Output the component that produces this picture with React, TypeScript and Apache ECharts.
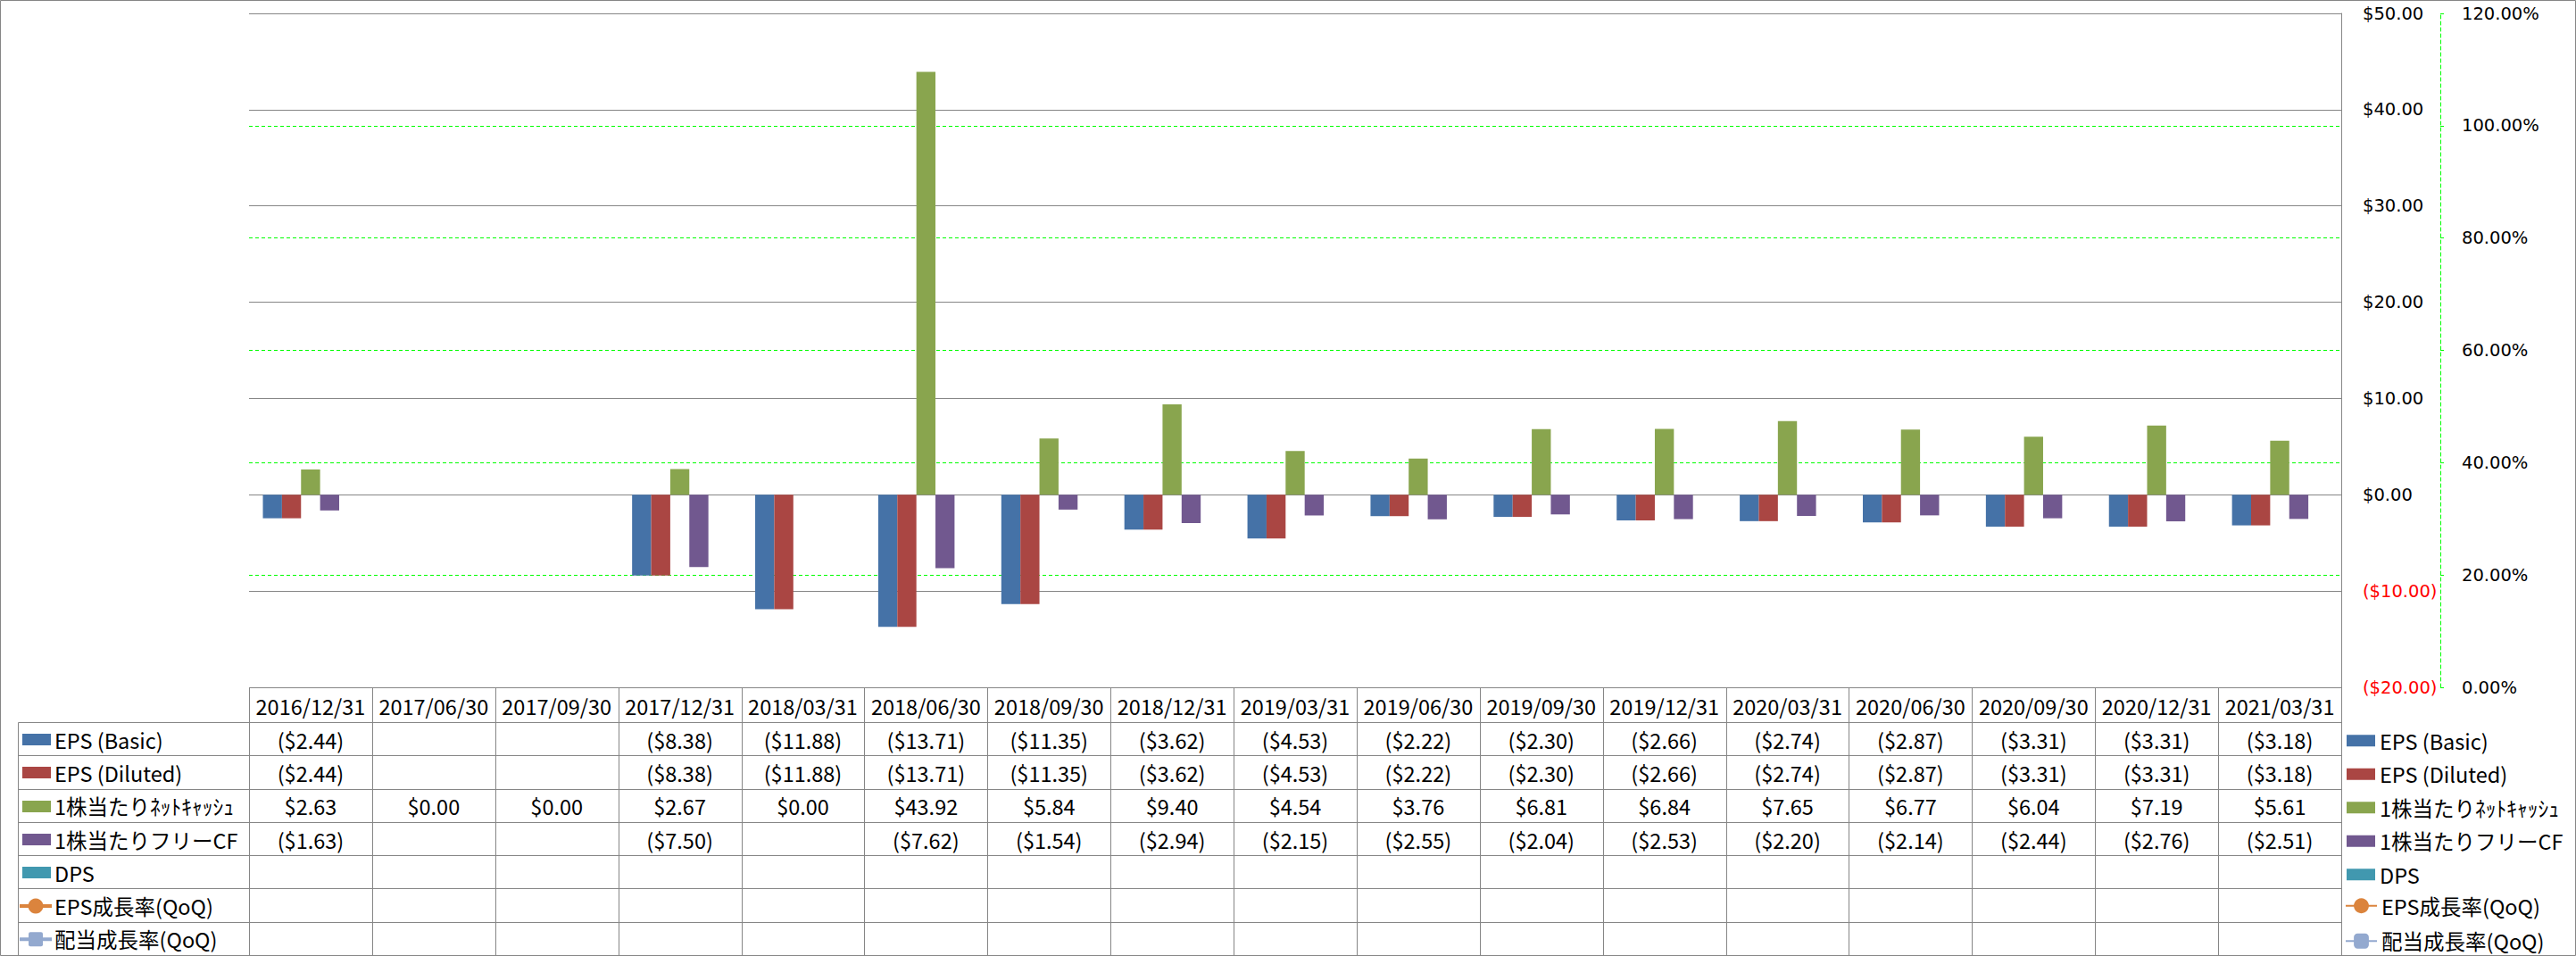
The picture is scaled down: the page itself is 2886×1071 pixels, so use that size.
import React, { useEffect, useRef } from "react";
import * as echarts from "echarts";

// ---------------- data ----------------
const categories = [
  "2016/12/31", "2017/06/30", "2017/09/30", "2017/12/31", "2018/03/31", "2018/06/30",
  "2018/09/30", "2018/12/31", "2019/03/31", "2019/06/30", "2019/09/30", "2019/12/31",
  "2020/03/31", "2020/06/30", "2020/09/30", "2020/12/31", "2021/03/31",
];
const epsBasic = [-2.44, null, null, -8.38, -11.88, -13.71, -11.35, -3.62, -4.53, -2.22, -2.3, -2.66, -2.74, -2.87, -3.31, -3.31, -3.18];
const epsDiluted = [-2.44, null, null, -8.38, -11.88, -13.71, -11.35, -3.62, -4.53, -2.22, -2.3, -2.66, -2.74, -2.87, -3.31, -3.31, -3.18];
const netCashPerShare = [2.63, 0, 0, 2.67, 0, 43.92, 5.84, 9.4, 4.54, 3.76, 6.81, 6.84, 7.65, 6.77, 6.04, 7.19, 5.61];
const fcfPerShare = [-1.63, null, null, -7.5, null, -7.62, -1.54, -2.94, -2.15, -2.55, -2.04, -2.53, -2.2, -2.14, -2.44, -2.76, -2.51];
const dps = [null, null, null, null, null, null, null, null, null, null, null, null, null, null, null, null, null];
const epsGrowth = [null, null, null, null, null, null, null, null, null, null, null, null, null, null, null, null, null];
const divGrowth = [null, null, null, null, null, null, null, null, null, null, null, null, null, null, null, null, null];

const seriesNames = [
  "EPS (Basic)", "EPS (Diluted)", "1株当たりﾈｯﾄｷｬｯｼｭ", "1株当たりフリーCF", "DPS", "EPS成長率(QoQ)", "配当成長率(QoQ)",
];
const seriesColors = ["#4572A7", "#AA4643", "#89A54E", "#71588F", "#4198AF", "#DB843D", "#93A9CF"];
const dollarAxis = { min: -20, max: 50, interval: 10 };
const pctAxis = { min: 0, max: 1.2, interval: 0.2 };

// ---------------- layout ----------------
const W = 2886;
const H = 1071;
const GRID_L = 279;
const GRID_R = 2623;
const GRID_T = 15;
const GRID_B = 770;
const TABLE_TOP = 770;
const HEADER_B = 809;
const TABLE_B = 1070;
const LEG_COL_L = 20;
const TABLE_FONT = '"Noto Sans CJK JP", "Noto Sans", sans-serif';
const AXIS_FONT = '"DejaVu Sans", Verdana, sans-serif';
const LINE_COLOR = "#868686";
const GREEN = "#00FF00";

const fmtDollar = (v: number | null) =>
  v == null ? "" : v < 0 ? `($${(-v).toFixed(2)})` : `$${v.toFixed(2)}`;

function buildTable() {
  const rows = [epsBasic, epsDiluted, netCashPerShare, fcfPerShare, dps, epsGrowth, divGrowth];
  const n = categories.length;
  const colW = (GRID_R - GRID_L) / n;
  const rowH = (TABLE_B - HEADER_B) / rows.length;
  const p = (v: number) => Math.round(v) + 0.5;
  const els: any[] = [];
  const line = (x1: number, y1: number, x2: number, y2: number) =>
    els.push({ type: "line", silent: true, z: 50, shape: { x1, y1, x2, y2 }, style: { stroke: LINE_COLOR, lineWidth: 1 } });
  const text = (x: number, y: number, s: string, align: string) =>
    els.push({
      type: "text", silent: true, z: 50, x, y,
      style: { text: s, fill: "#000", fontSize: 23.5, fontFamily: TABLE_FONT, align, verticalAlign: "middle" },
    });

  // outer chart border
  els.push({ type: "rect", silent: true, z: 50, shape: { x: 0.5, y: 0.5, width: W - 1, height: H - 1 }, style: { fill: "none", stroke: LINE_COLOR, lineWidth: 1 } });

  // horizontal lines
  line(p(GRID_L), p(TABLE_TOP), p(GRID_R), p(TABLE_TOP));
  for (let r = 0; r <= rows.length; r++) {
    const y = p(HEADER_B + r * rowH);
    line(p(LEG_COL_L), y, p(GRID_R), y);
  }
  // vertical lines (the last one doubles as the plot area's right frame)
  line(p(LEG_COL_L), p(HEADER_B), p(LEG_COL_L), p(TABLE_B));
  for (let c = 0; c <= n; c++) {
    const x = p(GRID_L + c * colW);
    line(x, c === n ? p(GRID_T) : p(TABLE_TOP), x, p(TABLE_B));
  }
  // header
  categories.forEach((cat, c) => text(GRID_L + (c + 0.5) * colW, (TABLE_TOP + HEADER_B) / 2 + 1, cat, "center"));
  // rows
  rows.forEach((vals, r) => {
    const cy = HEADER_B + (r + 0.5) * rowH + 1;
    const color = seriesColors[r];
    if (r < 5) {
      els.push({ type: "rect", silent: true, z: 50, shape: { x: 25, y: Math.round(cy - 6.5), width: 32, height: 13 }, style: { fill: color } });
    } else {
      els.push({ type: "line", silent: true, z: 50, shape: { x1: 22, y1: cy, x2: 58, y2: cy }, style: { stroke: color, lineWidth: 4 } });
      if (r === 5) {
        els.push({ type: "circle", silent: true, z: 51, shape: { cx: 40, cy, r: 8.5 }, style: { fill: color } });
      } else {
        els.push({ type: "rect", silent: true, z: 51, shape: { x: 32, y: cy - 8, width: 16, height: 16, r: 2 }, style: { fill: color } });
      }
    }
    text(61, cy, seriesNames[r], "left");
    vals.forEach((v, c) => {
      if (v != null) text(GRID_L + (c + 0.5) * colW, cy, fmtDollar(v as number), "center");
    });
  });
  return els;
}

export default function App() {
  const ref = useRef<HTMLDivElement>(null);
  useEffect(() => {
    if (!ref.current) return;
    const chart = echarts.init(ref.current, undefined, { renderer: "svg" });
    const barData = [epsBasic, epsDiluted, netCashPerShare, fcfPerShare, dps];
    const lineData = [epsGrowth, divGrowth];
    const legendText = { fontSize: 23.5, fontFamily: TABLE_FONT, color: "#000", lineHeight: 23 };
    chart.setOption({
      animation: false,
      backgroundColor: "#ffffff",
      textStyle: { fontFamily: TABLE_FONT },
      grid: { left: GRID_L, right: W - GRID_R, top: GRID_T, bottom: H - GRID_B, containLabel: false },
      legend: [
        {
          orient: "vertical", left: 2629, top: 818, padding: 0, itemWidth: 32, itemHeight: 13, itemGap: 14,
          selectedMode: false, textStyle: legendText,
          data: seriesNames.slice(0, 5).map((name) => ({ name, icon: "rect" })),
        },
        {
          orient: "vertical", left: 2627, top: 1003, padding: 0, height: 70, itemWidth: 35, itemHeight: 21, itemGap: 16,
          selectedMode: false, textStyle: legendText,
          data: seriesNames.slice(5),
        },
      ],
      xAxis: {
        type: "category", data: categories,
        axisLine: { show: false }, axisTick: { show: false }, axisLabel: { show: false }, splitLine: { show: false },
      },
      yAxis: [
        {
          type: "value", position: "right", z: 1, ...dollarAxis,
          axisLine: { show: true, lineStyle: { color: LINE_COLOR, width: 1 } },
          axisTick: { show: false },
          axisLabel: {
            margin: 24, fontFamily: AXIS_FONT, fontSize: 19.5, align: "left",
            formatter: (v: number) => fmtDollar(v),
            color: (v: any) => (parseFloat(v) < 0 ? "#FF0000" : "#000000"),
          },
          splitLine: { show: true, lineStyle: { color: LINE_COLOR, width: 1 } },
        },
        {
          type: "value", position: "right", offset: 111, z: 0, ...pctAxis,
          axisLine: { show: true, lineStyle: { color: GREEN, width: 1, type: [4, 3] } },
          axisTick: { show: true, inside: false, length: 7, lineStyle: { color: GREEN, type: [4, 3] } },
          axisLabel: {
            margin: 24, fontFamily: AXIS_FONT, fontSize: 19.5, color: "#000", align: "left",
            formatter: (v: number) => `${(v * 100).toFixed(2)}%`,
          },
          splitLine: { show: true, lineStyle: { color: GREEN, width: 1, type: [4, 3] } },
        },
      ],
      series: [
        ...barData.map((d, i) => ({
          name: seriesNames[i], type: "bar", data: d, yAxisIndex: 0, z: 2,
          barGap: "0%", barCategoryGap: "22.5%",
          itemStyle: { color: seriesColors[i] },
        })),
        ...lineData.map((d, i) => ({
          name: seriesNames[5 + i], type: "line", data: d, yAxisIndex: 1,
          symbol: i === 0 ? "circle" : "roundRect", symbolSize: 16,
          itemStyle: { color: seriesColors[5 + i] },
          lineStyle: { color: seriesColors[5 + i], width: 4 },
        })),
      ],
      graphic: buildTable(),
    });
    return () => chart.dispose();
  }, []);
  return <div ref={ref} style={{ position: "absolute", left: 0, top: 0, width: W, height: H }} />;
}
